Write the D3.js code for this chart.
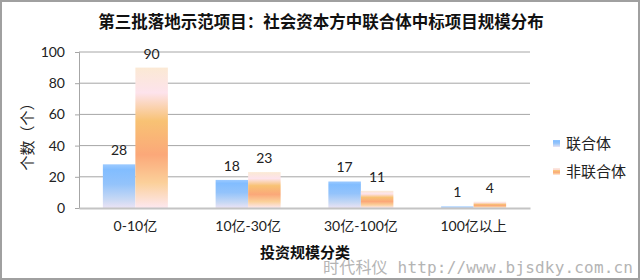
<!DOCTYPE html>
<html>
<head>
<meta charset="utf-8">
<script src="https://cdn.jsdelivr.net/npm/d3@7"></script>
<style>
  body { margin: 0; background: #fff; }
  text { font-family: Lato, "Noto Sans CJK SC", sans-serif; fill: #222; }
</style>
</head>
<body>
<div class="chart"></div>
<script>
const width = 640;
const height = 280;

// data
const categories = ['0-10亿', '10亿-30亿', '30亿-100亿', '100亿以上'];
const seriesNames = ['联合体', '非联合体'];
const lianhe = [28, 18, 17, 1];
const feiLianhe = [90, 23, 11, 4];
const yTicks = [0, 20, 40, 60, 80, 100];

const plotLeft = 79, plotRight = 530, plotTop = 52, plotBottom = 208;

const svg = d3.select('.chart').append('svg')
    .attr('width', width)
    .attr('height', height);

// gradients like the office chart fill
const defs = svg.append('defs');
const blueGrad = defs.append('linearGradient').attr('id', 'gBlue')
    .attr('x1', 0).attr('y1', 0).attr('x2', 0).attr('y2', 1);
[['0%', '#9ccaff'], ['12%', '#82bdff'], ['45%', '#93c3fb'], ['80%', '#c7d8f4'], ['100%', '#ebe3f5']]
    .forEach(s => blueGrad.append('stop').attr('offset', s[0]).attr('stop-color', s[1]));
const orangeGrad = defs.append('linearGradient').attr('id', 'gOrange')
    .attr('x1', 0).attr('y1', 0).attr('x2', 0).attr('y2', 1);
[['0%', '#fbe9d4'], ['18%', '#fde3ec'], ['38%', '#f8c274'], ['62%', '#fba879'], ['82%', '#fbd09a'], ['100%', '#fde8f0']]
    .forEach(s => orangeGrad.append('stop').attr('offset', s[0]).attr('stop-color', s[1]));
const fills = ['url(#gBlue)', 'url(#gOrange)'];

// outer frame
svg.append('rect')
    .attr('x', 1).attr('y', 1)
    .attr('width', width - 2).attr('height', height - 2)
    .attr('fill', '#fff')
    .attr('stroke', '#a0a0a0')
    .attr('stroke-width', 2);

/*      scales      */
const yScale = d3.scaleLinear().domain([0, 100]).range([plotBottom, plotTop]);
const xScale = d3.scaleBand().domain(categories).range([plotLeft, plotRight]);
const inner = d3.scaleBand().domain(seriesNames).range([0, 65]);
const barOffset = (xScale.bandwidth() - 65) / 2;

/*      grid lines      */
svg.append('g').selectAll('line')
    .data(yTicks.slice(1))
    .enter().append('line')
    .attr('x1', plotLeft).attr('x2', plotRight)
    .attr('y1', d => yScale(d)).attr('y2', d => yScale(d))
    .attr('stroke', '#a6a6a6').attr('stroke-width', 1);

/*      y axis      */
const yAxis = svg.append('g')
    .attr('transform', `translate(${plotLeft},0)`)
    .call(d3.axisLeft(yScale).tickValues(yTicks).tickSize(4).tickPadding(10));
yAxis.select('.domain').attr('stroke', '#a6a6a6');
yAxis.selectAll('.tick line').attr('stroke', '#a6a6a6');
yAxis.selectAll('.tick text')
    .style('font-family', 'Lato, "Noto Sans CJK SC", sans-serif')
    .style('font-size', '14px');

/*      bars      */
const series = [lianhe, feiLianhe];
const groups = svg.append('g').selectAll('g')
    .data(categories)
    .enter().append('g')
    .attr('transform', d => `translate(${xScale(d) + barOffset},0)`);

seriesNames.forEach((name, s) => {
    groups.append('rect')
        .attr('x', inner(name))
        .attr('y', (d, i) => yScale(series[s][i]))
        .attr('width', inner.bandwidth())
        .attr('height', (d, i) => Math.max(yScale(0) - yScale(series[s][i]), 1))
        .attr('fill', fills[s]);
    groups.append('text')
        .attr('x', inner(name) + inner.bandwidth() / 2)
        .attr('y', (d, i) => yScale(series[s][i]) - 9)
        .attr('text-anchor', 'middle')
        .style('font-size', '14px')
        .text((d, i) => series[s][i]);
});

/*      x axis      */
const xAxis = svg.append('g')
    .attr('transform', `translate(0,${plotBottom})`)
    .call(d3.axisBottom(xScale).tickSize(0).tickPadding(13));
xAxis.select('.domain').attr('stroke', '#c4c4c4').attr('stroke-width', 2);
xAxis.selectAll('.tick text')
    .style('font-family', 'Lato, "Noto Sans CJK SC", sans-serif')
    .style('font-size', '14px');

/*      titles      */
svg.append('text')
    .attr('x', 321).attr('y', 28)
    .attr('text-anchor', 'middle')
    .style('fill', '#111')
    .style('font-family', '"Noto Sans CJK SC", sans-serif')
    .style('font-size', '16.5px').style('font-weight', 'bold')
    .text('第三批落地示范项目：社会资本方中联合体中标项目规模分布');

svg.append('text')
    .attr('x', 305).attr('y', 258)
    .attr('text-anchor', 'middle')
    .style('fill', '#111')
    .style('font-family', '"Noto Sans CJK SC", sans-serif')
    .style('font-size', '15px').style('font-weight', 'bold')
    .text('投资规模分类');

svg.append('text')
    .attr('transform', 'translate(33,133) rotate(-90)')
    .attr('text-anchor', 'middle')
    .style('font-family', '"Noto Sans CJK SC", sans-serif')
    .style('font-size', '15px')
    .text('个数（个）');

/*      legend      */
const legend = svg.append('g').selectAll('g')
    .data(seriesNames)
    .enter().append('g')
    .attr('transform', (d, i) => `translate(553,${143 + i * 28})`);
legend.append('rect')
    .attr('x', 0).attr('y', -3)
    .attr('width', 7).attr('height', 7)
    .attr('fill', (d, i) => fills[i]);
legend.append('text')
    .attr('x', 13).attr('y', 6)
    .style('font-family', '"Noto Sans CJK SC", sans-serif')
    .style('font-size', '15px')
    .text(d => d);

/*      watermark      */
svg.append('text')
    .attr('x', 633).attr('y', 273)
    .attr('text-anchor', 'end')
    .attr('textLength', 310)
    .style('fill', '#b4b4b4')
    .style('font-family', '"DejaVu Sans Mono", "Noto Sans CJK SC", monospace')
    .style('font-size', '16px')
    .text('时代科仪 http://www.bjsdky.com.cn');
</script>
</body>
</html>
